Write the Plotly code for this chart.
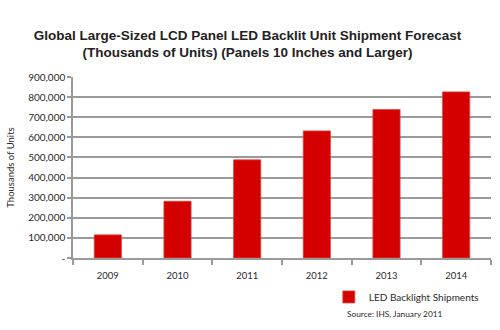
import plotly.graph_objects as go

years = ["2009", "2010", "2011", "2012", "2013", "2014"]
shipments = [115000, 282000, 488000, 632000, 738000, 826000]
y_ticks = [0, 100000, 200000, 300000, 400000, 500000, 600000, 700000, 800000, 900000]
y_tick_text = ["-", "100,000", "200,000", "300,000", "400,000", "500,000",
               "600,000", "700,000", "800,000", "900,000"]

RED = "#D40000"
GRID = "#9A9A9A"
TEXT = "#2A2A2A"

fig = go.Figure()
fig.add_trace(go.Bar(
    x=years, y=shipments, name="LED Backlight Shipments",
    marker=dict(color=RED, line=dict(color="#E04040", width=0.8)),
))

fig.update_layout(
    width=500, height=330,
    margin=dict(l=73, r=9, t=77, b=72),
    paper_bgcolor="white", plot_bgcolor="white",
    bargap=0.61,
    title=dict(
        text="<b>Global Large-Sized LCD Panel LED Backlit Unit Shipment Forecast<br>"
             "(Thousands of Units) (Panels 10 Inches and Larger)</b>",
        x=0.495, xanchor="center", y=0.88, yanchor="top",
        font=dict(family="Liberation Sans, Arial", size=13.5, color="#222222"),
    ),
    font=dict(family="Lato, Open Sans", size=9, color=TEXT),
    showlegend=True,
    legend=dict(
        x=0.612, y=-0.135, xanchor="left", yanchor="top",
        font=dict(family="Lato", size=10, color=TEXT),
        bgcolor="rgba(0,0,0,0)", itemwidth=30,
    ),
    annotations=[dict(
        text="Source: IHS, January 2011", xref="paper", yref="paper",
        x=0.65, y=-0.27, xanchor="left", yanchor="top", showarrow=False,
        font=dict(family="Lato", size=8.3, color=TEXT),
    )],
)

fig.update_xaxes(
    showline=True, linecolor=GRID, linewidth=1.5,
    ticks="outside", tickcolor=GRID, ticklen=5, tickwidth=1.5,
    tickson="boundaries", showgrid=False, ticklabelstandoff=8,
    tickfont=dict(family="Lato", size=9.5, color=TEXT),
)
fig.update_yaxes(
    range=[0, 900000], tickvals=y_ticks, ticktext=y_tick_text,
    showline=True, linecolor=GRID, linewidth=1.5,
    ticks="outside", tickcolor=GRID, ticklen=4, tickwidth=1.5,
    showgrid=True, gridcolor=GRID, gridwidth=1.5, zeroline=False,
    tickfont=dict(family="Lato", size=10, color=TEXT),
    title=dict(text="Thousands of Units", standoff=12,
               font=dict(family="Lato", size=9.5, color=TEXT)),
)

fig.write_html("out.html")
